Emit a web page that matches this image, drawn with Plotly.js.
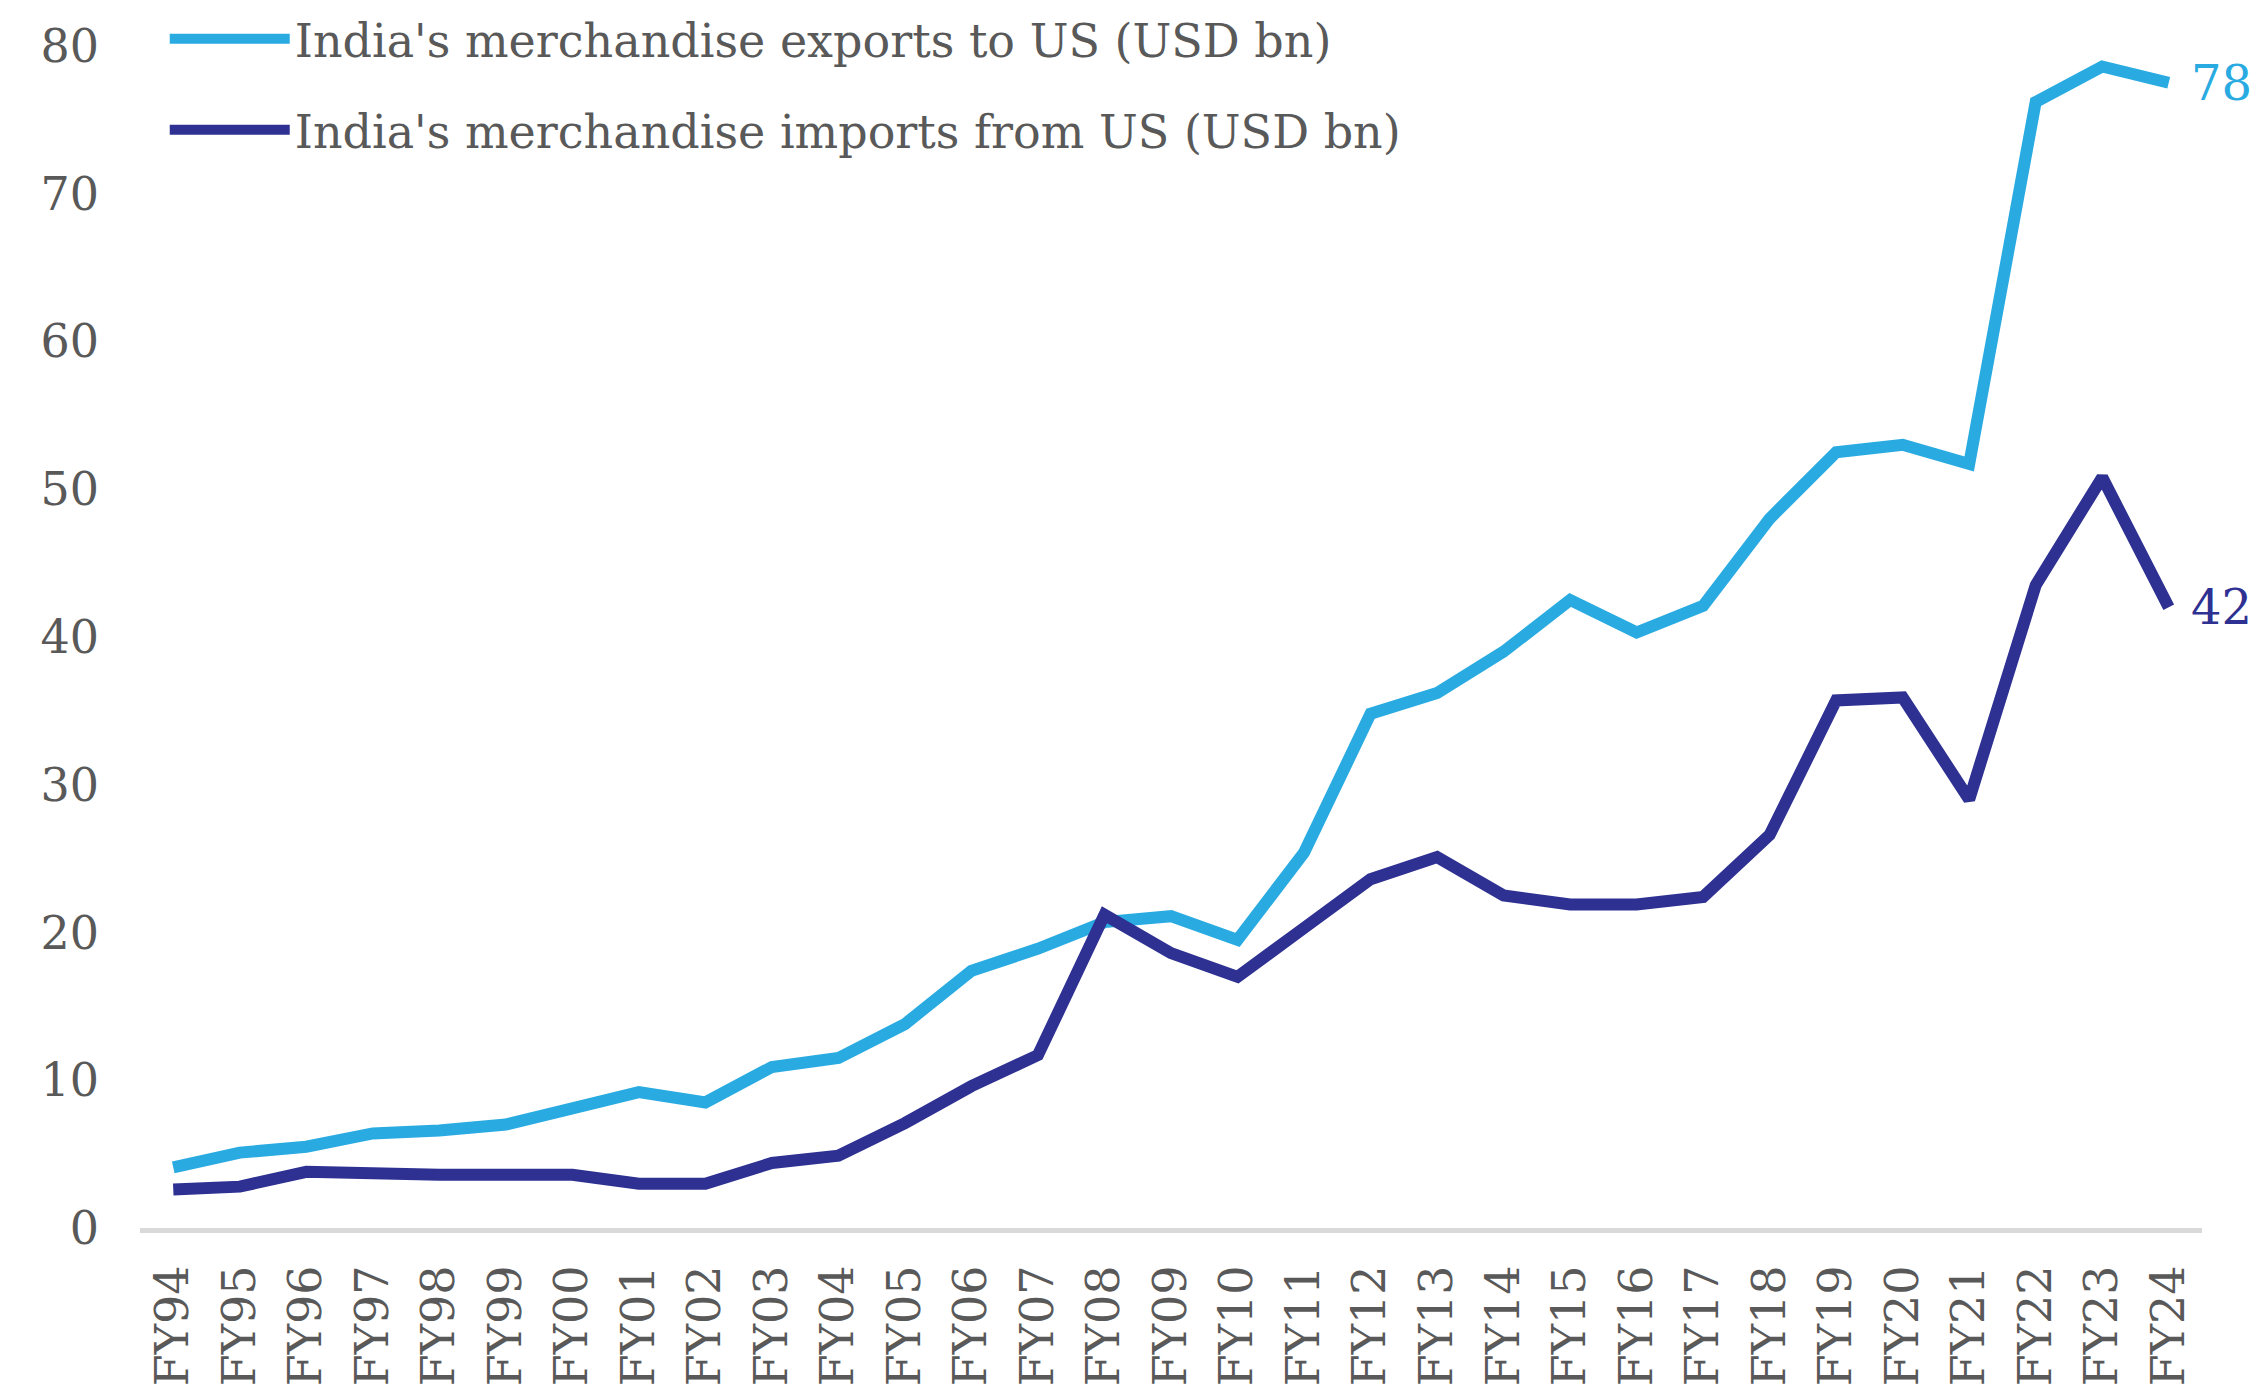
<!DOCTYPE html>
<html>
<head>
<meta charset="utf-8">
<script src="https://cdn.plot.ly/plotly-3.0.1.min.js"></script>
<style>html,body{margin:0;padding:0;background:#fff;}#chart{width:2260px;height:1395px;}</style>
</head>
<body>
<div id="chart"></div>
<script>
const categories = ["FY94","FY95","FY96","FY97","FY98","FY99","FY00","FY01","FY02","FY03","FY04","FY05","FY06","FY07","FY08","FY09","FY10","FY11","FY12","FY13","FY14","FY15","FY16","FY17","FY18","FY19","FY20","FY21","FY22","FY23","FY24"];
const exportsToUS = [4.1,5.1,5.5,6.4,6.6,7.0,8.1,9.2,8.5,10.9,11.5,13.8,17.4,18.9,20.7,21.1,19.5,25.4,34.8,36.2,39.0,42.5,40.3,42.1,48.0,52.5,53.0,51.7,76.2,78.6,77.5];
const importsFromUS = [2.6,2.8,3.8,3.6,3.6,3.6,3.6,3.0,3.0,4.4,4.9,7.1,9.6,11.7,21.2,18.6,17.0,20.3,23.6,25.1,22.5,21.9,21.9,22.4,26.6,35.7,35.9,29.0,43.5,50.8,42.0];
const seriesNames = ["India's merchandise exports to US (USD bn)","India's merchandise imports from US (USD bn)"];
const yTickValues = [0,10,20,30,40,50,60,70,80];

const lightBlue = "#29ABE2";
const darkBlue = "#2E3192";
const grey = "#595959";
const fontFamily = "'DejaVu Serif', Georgia, serif";

const lastIdx = categories.length - 1;

const traces = [
  {x: categories, y: exportsToUS, type: "scatter", mode: "lines", name: seriesNames[0],
   legendgroup: "a", line: {color: lightBlue, width: 12}},
  {x: categories, y: importsFromUS, type: "scatter", mode: "lines", name: seriesNames[1],
   legendgroup: "b", line: {color: darkBlue, width: 12}}
];

const layout = {
  width: 2260, height: 1395,
  paper_bgcolor: "#fff", plot_bgcolor: "#fff",
  margin: {l: 140, r: 58, t: 0, b: 167},
  font: {family: fontFamily, color: grey, size: 48},
  showlegend: true,
  legend: {
    x: 0.012, y: 0.998, xanchor: "left", yanchor: "top",
    bgcolor: "rgba(0,0,0,0)",
    font: {family: fontFamily, size: 46, color: grey},
    itemwidth: 120, tracegroupgap: 28, traceorder: "grouped"
  },
  xaxis: {
    type: "category", range: [-0.5, categories.length - 0.5], autorange: false,
    tickangle: -90, showgrid: false, zeroline: false,
    showline: true, linecolor: "#D9D9D9", linewidth: 5,
    ticks: "", tickfont: {family: fontFamily, size: 46, color: grey},
    ticklabelstandoff: 14, fixedrange: true
  },
  yaxis: {
    range: [0, 83.1], autorange: false, tickvals: yTickValues, showgrid: false, zeroline: false,
    showline: false, ticks: "",
    tickfont: {family: fontFamily, size: 46, color: grey},
    ticklabelstandoff: 40, fixedrange: true
  },
  annotations: [
    {x: categories[lastIdx], y: exportsToUS[lastIdx], xref: "x", yref: "y",
     text: String(Math.round(exportsToUS[lastIdx])), showarrow: false,
     xanchor: "left", yanchor: "middle", xshift: 20,
     font: {family: fontFamily, size: 48, color: lightBlue}},
    {x: categories[lastIdx], y: importsFromUS[lastIdx], xref: "x", yref: "y",
     text: String(Math.round(importsFromUS[lastIdx])), showarrow: false,
     xanchor: "left", yanchor: "middle", xshift: 20,
     font: {family: fontFamily, size: 48, color: darkBlue}}
  ]
};

Plotly.newPlot("chart", traces, layout, {staticPlot: true, displayModeBar: false});
</script>
</body>
</html>
